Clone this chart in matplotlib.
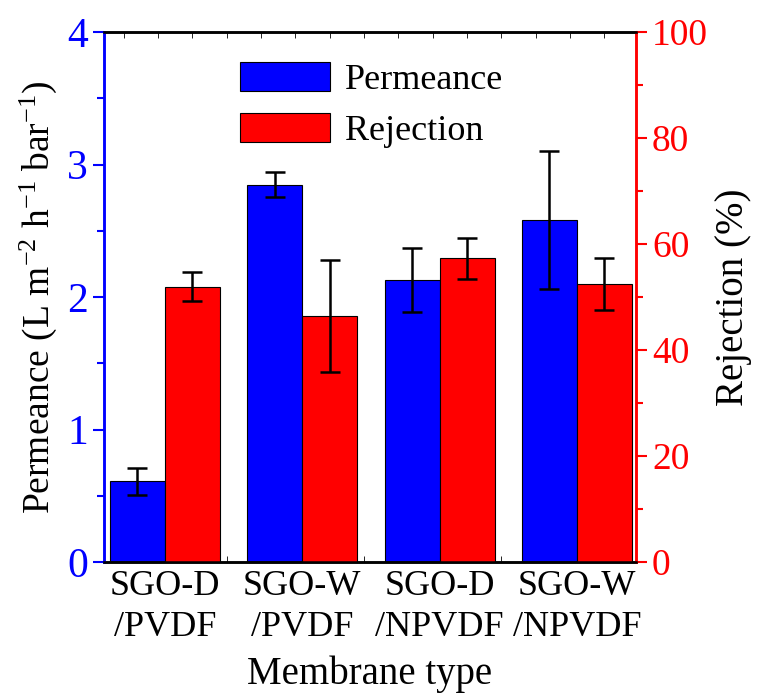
import numpy as np
import matplotlib
matplotlib.use("Agg")
import matplotlib.pyplot as plt
from matplotlib.ticker import MultipleLocator, FormatStrFormatter

plt.rcParams['font.family'] = 'Liberation Serif'
plt.rcParams['mathtext.fontset'] = 'custom'
plt.rcParams['mathtext.rm'] = 'Liberation Serif'

membranes = ['SGO-D\n/PVDF', 'SGO-W\n/PVDF', 'SGO-D\n/NPVDF', 'SGO-W\n/NPVDF']
permeance = [0.61, 2.85, 2.13, 2.58]
permeance_err = [0.10, 0.095, 0.24, 0.52]
rejection = [52.0, 46.4, 57.3, 52.5]
rejection_err = [2.7, 10.6, 3.9, 4.9]

x = np.arange(len(membranes))
w = 0.40

fig = plt.figure(figsize=(7.58, 7.00), dpi=100)
ax = fig.add_axes([0.137, 0.197, 0.702, 0.757])
ax2 = ax.twinx()

ax.bar(x - w / 2, permeance, w, color='#0000ff', edgecolor='black', linewidth=0.8,
       label='Permeance', zorder=2)
ax.errorbar(x - w / 2, permeance, yerr=permeance_err, fmt='none', ecolor='black',
            elinewidth=1.8, capsize=7, capthick=1.8, zorder=3)
ax2.bar(x + w / 2, rejection, w, color='#ff0000', edgecolor='black', linewidth=0.8,
        label='Rejection', zorder=2)
ax2.errorbar(x + w / 2, rejection, yerr=rejection_err, fmt='none', ecolor='black',
             elinewidth=1.8, capsize=7, capthick=1.8, zorder=3)

ax.set_xlim(-0.445, 3.43)
ax.set_ylim(0, 4)
ax2.set_ylim(0, 100)

ax.set_xticks(x)
ax.set_xticklabels(membranes, fontsize=26, linespacing=1.3)
ax.tick_params(axis='x', length=0, pad=6)
ax.xaxis.set_minor_locator(MultipleLocator(0.25, offset=-0.05))
ax.tick_params(axis='x', which='minor', direction='in', length=4, top=True, bottom=True)

ax.yaxis.set_major_locator(MultipleLocator(1))
ax.yaxis.set_minor_locator(MultipleLocator(0.5))
ax.yaxis.set_major_formatter(FormatStrFormatter('%d'))
ax.tick_params(axis='y', colors='#0000ff', labelsize=30, length=8, width=1.5)
ax.tick_params(axis='y', which='minor', colors='#0000ff', length=5, width=1.5)

ax2.yaxis.set_major_locator(MultipleLocator(20))
ax2.yaxis.set_minor_locator(MultipleLocator(10))
ax2.yaxis.set_major_formatter(FormatStrFormatter('%d'))
ax2.tick_params(axis='y', colors='#ff0000', labelsize=27, length=8, width=1.5)
ax2.tick_params(axis='y', which='minor', colors='#ff0000', length=5, width=1.5)

for a in (ax, ax2):
    a.spines['left'].set_color('#0000ff')
    a.spines['right'].set_color('#ff0000')
    for s in a.spines.values():
        s.set_linewidth(1.8)

ax.set_ylabel(r'Permeance (L m$\mathregular{^{-2}}$ h$\mathregular{^{-1}}$ bar$\mathregular{^{-1}}$)',
              fontsize=27, labelpad=6)
ax2.set_ylabel('Rejection (%)', fontsize=28, labelpad=5)
ax.set_xlabel('Membrane type', fontsize=28, labelpad=8)

h1, l1 = ax.get_legend_handles_labels()
h2, l2 = ax2.get_legend_handles_labels()
ax2.legend(h1 + h2, l1 + l2, loc='upper left', bbox_to_anchor=(0.222, 0.978),
           frameon=False, fontsize=26, handlelength=2.5, handleheight=0.85,
           handletextpad=0.4, labelspacing=0.45, borderpad=0)

fig.savefig('out.png', dpi=100)
